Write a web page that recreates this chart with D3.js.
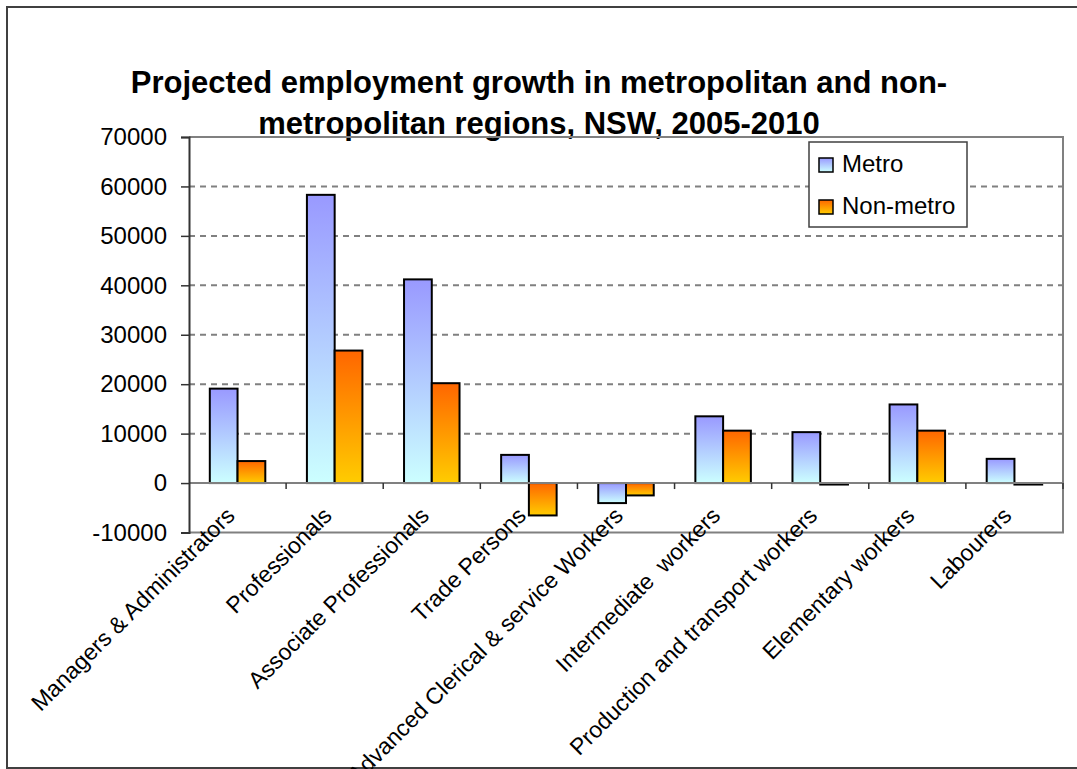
<!DOCTYPE html>
<html>
<head>
<meta charset="utf-8">
<script src="https://cdn.jsdelivr.net/npm/d3@7"></script>
<style>
  html, body { margin: 0; padding: 0; background: #fff; }
  svg { display: block; font-family: Arial, "Liberation Sans", sans-serif; }
</style>
</head>
<body>
<svg id="chart" width="1077" height="769"></svg>
<script>
// data
const categories = ["Managers & Administrators", "Professionals", "Associate Professionals", "Trade Persons",
  "Advanced Clerical & service Workers", "Intermediate  workers", "Production and transport workers",
  "Elementary workers", "Labourers"];
const metro = [19100, 58300, 41200, 5700, -4050, 13500, 10300, 15900, 4900];
const nonMetro = [4450, 26800, 20200, -6550, -2500, 10600, -300, 10600, -300];
const seriesNames = ["Metro", "Non-metro"];
const yTicks = [-10000, 0, 10000, 20000, 30000, 40000, 50000, 60000, 70000];
const titleLines = ["Projected employment growth in metropolitan and non-", "metropolitan regions, NSW, 2005-2010"];

const plotLeft = 189, plotRight = 1063, plotTop = 137, plotBottom = 532.5;

const svg = d3.select("#chart");

// gradients for the bars
const defs = svg.append("defs");
const grads = [
  { id: "gradMetro", top: "#9999ff", bottom: "#ccffff" },
  { id: "gradNon", top: "#ff6600", bottom: "#ffcc00" }
];
grads.forEach(g => {
  const lg = defs.append("linearGradient").attr("id", g.id)
    .attr("x1", 0).attr("y1", 0).attr("x2", 0).attr("y2", 1);
  lg.append("stop").attr("offset", "0%").attr("stop-color", g.top);
  lg.append("stop").attr("offset", "100%").attr("stop-color", g.bottom);
});

// outer chart border
svg.append("rect")
  .attr("x", 7).attr("y", 7)
  .attr("width", 1100).attr("height", 761)
  .attr("fill", "none")
  .attr("stroke", "#404040")
  .attr("stroke-width", 2);

// title
svg.append("g").selectAll("text")
  .data(titleLines)
  .join("text")
  .attr("x", 539)
  .attr("y", (d, i) => 93 + i * 41)
  .attr("text-anchor", "middle")
  .style("font-size", "31px")
  .style("font-weight", "bold")
  .text(d => d);

// scales
const x = d3.scaleBand().domain(categories).range([plotLeft, plotRight]);
const barW = x.step() / 3.5;
const y = d3.scaleLinear().domain([-10000, 70000]).range([plotBottom, plotTop]);

// gridlines
svg.append("g").selectAll("line")
  .data(yTicks.filter(t => t !== 0 && t !== 70000 && t !== -10000))
  .join("line")
  .attr("x1", plotLeft).attr("x2", plotRight)
  .attr("y1", d => y(d)).attr("y2", d => y(d))
  .attr("stroke", "#808080")
  .attr("stroke-width", 2)
  .attr("stroke-dasharray", "6,5");

// plot frame (top, right, bottom)
svg.append("path")
  .attr("d", `M${plotLeft},${plotTop}H${plotRight}V${plotBottom}H${plotLeft}`)
  .attr("fill", "none")
  .attr("stroke", "#808080")
  .attr("stroke-width", 2);

// bars
const rows = categories.map((c, i) => ({ cat: c, vals: [metro[i], nonMetro[i]] }));
const barG = svg.append("g");
rows.forEach(r => {
  r.vals.forEach((v, j) => {
    const x0 = x(r.cat) + (x.step() - 2 * barW) / 2 + j * barW;
    barG.append("rect")
      .attr("x", x0)
      .attr("y", Math.min(y(v), y(0)))
      .attr("width", barW)
      .attr("height", Math.abs(y(v) - y(0)))
      .attr("fill", j === 0 ? "url(#gradMetro)" : "url(#gradNon)")
      .attr("stroke", "#000")
      .attr("stroke-width", 2);
  });
});

// zero line (category axis)
svg.append("line")
  .attr("x1", plotLeft).attr("x2", plotRight)
  .attr("y1", y(0)).attr("y2", y(0))
  .attr("stroke", "#808080")
  .attr("stroke-width", 2);

// category ticks
svg.append("g").selectAll("line")
  .data(d3.range(1, categories.length + 1))
  .join("line")
  .attr("x1", i => plotLeft + i * x.step())
  .attr("x2", i => plotLeft + i * x.step())
  .attr("y1", y(0)).attr("y2", y(0) + 6)
  .attr("stroke", "#333")
  .attr("stroke-width", 1.5);

// y axis
const yAxis = svg.append("g")
  .attr("transform", `translate(${plotLeft},0)`)
  .call(d3.axisLeft(y).tickValues(yTicks).tickSize(8).tickPadding(14).tickFormat(d => String(d)));
yAxis.select(".domain").attr("stroke", "#333").attr("stroke-width", 2);
yAxis.selectAll(".tick line").attr("stroke", "#333").attr("stroke-width", 1.5);
yAxis.selectAll(".tick text")
  .attr("fill", "#000")
  .style("font-size", "24px")
  .style("font-family", "Arial, 'Liberation Sans', sans-serif");

// rotated category labels
svg.append("g").selectAll("text")
  .data(categories)
  .join("text")
  .attr("transform", d => `translate(${x(d) + x.bandwidth() / 2 - 1.5},${y(0) + 34}) rotate(-45)`)
  .attr("text-anchor", "end")
  .style("font-size", "23px")
  .style("white-space", "pre")
  .text(d => d);

// legend
const legend = svg.append("g").attr("transform", "translate(809,142)");
legend.append("rect")
  .attr("width", 158).attr("height", 85)
  .attr("fill", "#fff")
  .attr("stroke", "#404040")
  .attr("stroke-width", 1.5);
const items = legend.selectAll("g.item")
  .data(seriesNames)
  .join("g")
  .attr("class", "item")
  .attr("transform", (d, i) => `translate(10,${16 + i * 42})`);
items.append("rect")
  .attr("width", 14).attr("height", 14)
  .attr("fill", (d, i) => i === 0 ? "url(#gradMetro)" : "url(#gradNon)")
  .attr("stroke", "#000")
  .attr("stroke-width", 1.5);
items.append("text")
  .attr("x", 23).attr("y", 14)
  .style("font-size", "24px")
  .text(d => d);
</script>
</body>
</html>
